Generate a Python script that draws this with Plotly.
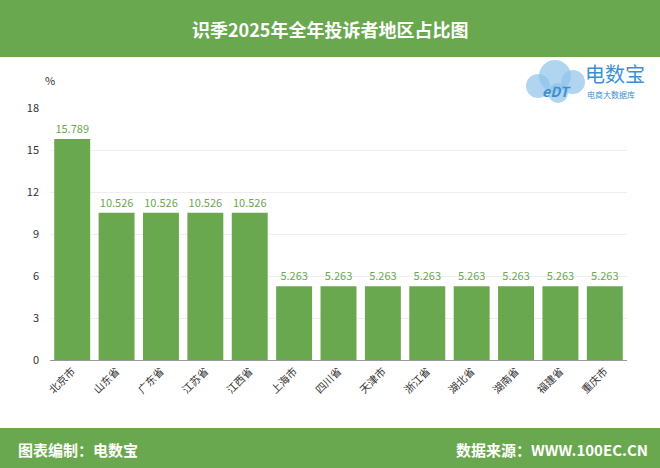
import plotly.graph_objects as go

categories = ["北京市", "山东省", "广东省", "江苏省", "江西省", "上海市", "四川省",
              "天津市", "浙江省", "湖北省", "湖南省", "福建省", "重庆市"]
values = [15.789, 10.526, 10.526, 10.526, 10.526, 5.263, 5.263,
          5.263, 5.263, 5.263, 5.263, 5.263, 5.263]
value_labels = ["15.789", "10.526", "10.526", "10.526", "10.526", "5.263", "5.263",
                "5.263", "5.263", "5.263", "5.263", "5.263", "5.263"]
y_ticks = [0, 3, 6, 9, 12, 15, 18]

W, H = 660, 468
T, B, L, R = 108, 108, 50, 33
GREEN = "#6aa84f"
FONT = "Noto Sans CJK SC, Microsoft YaHei, sans-serif"


def py(pix):
    # convert pixel y (from top) to paper coords
    return (H - B - pix) / (H - T - B)


def px(pix):
    return (pix - L) / (W - L - R)


fig = go.Figure(go.Bar(
    x=categories, y=values, text=value_labels, textposition="outside",
    textfont=dict(color=GREEN, size=11, family=FONT),
    marker=dict(color=GREEN, line=dict(width=0)),
    cliponaxis=False,
))

shapes = [
    dict(type="rect", xref="paper", yref="paper", x0=px(0), x1=px(W), y0=py(0), y1=py(57),
         fillcolor=GREEN, line=dict(width=0), layer="below"),
    dict(type="rect", xref="paper", yref="paper", x0=px(0), x1=px(W), y0=py(428), y1=py(H),
         fillcolor=GREEN, line=dict(width=0), layer="below"),
]
# simple cloud logo
for cx, cy, r in [(538, 86, 12), (555, 76, 16), (573, 82, 12), (558, 93, 10)]:
    shapes.append(dict(type="circle", xref="paper", yref="paper",
                       x0=px(cx - r), x1=px(cx + r), y0=py(cy + r), y1=py(cy - r),
                       fillcolor="#8fc3ea", line=dict(width=0), opacity=0.7, layer="below"))

annotations = [
    dict(text="<b>识季2025年全年投诉者地区占比图</b>", xref="paper", yref="paper",
         x=px(W / 2), y=py(29), showarrow=False, font=dict(color="white", size=18, family=FONT),
         xanchor="center", yanchor="middle"),
    dict(text="<b>图表编制：电数宝</b>", xref="paper", yref="paper",
         x=px(16), y=py(449), showarrow=False, font=dict(color="white", size=15, family=FONT),
         xanchor="left", yanchor="middle"),
    dict(text="<b>数据来源：WWW.100EC.CN</b>", xref="paper", yref="paper",
         x=px(650), y=py(449), showarrow=False, font=dict(color="white", size=15, family=FONT),
         xanchor="right", yanchor="middle"),
    dict(text="%", xref="paper", yref="paper", x=px(50), y=py(80), showarrow=False,
         font=dict(color="#333333", size=11, family=FONT), xanchor="center", yanchor="middle"),
    dict(text="<i><b>eDT</b></i>", xref="paper", yref="paper", x=px(556), y=py(91), showarrow=False,
         font=dict(color="#3d8fd1", size=14, family=FONT), xanchor="center", yanchor="middle"),
    dict(text="电数宝", xref="paper", yref="paper", x=px(583), y=py(73), showarrow=False,
         font=dict(color="#3d8fd1", size=20, family=FONT), xanchor="left", yanchor="middle"),
    dict(text="电商大数据库", xref="paper", yref="paper", x=px(585), y=py(95), showarrow=False,
         font=dict(color="#3d8fd1", size=8, family=FONT), xanchor="left", yanchor="middle"),
]

fig.update_layout(
    width=W, height=H, margin=dict(l=L, r=R, t=T, b=B, pad=0),
    paper_bgcolor="white", plot_bgcolor="white",
    bargap=0.19, showlegend=False,
    font=dict(family=FONT, color="#333333"),
    shapes=shapes, annotations=annotations,
    xaxis=dict(tickangle=-45, tickfont=dict(size=10.5, color="#333333"), showgrid=False,
               showline=True, linecolor="#999999", linewidth=1, ticks="", fixedrange=True),
    yaxis=dict(range=[0, 18], tickvals=y_ticks, tickfont=dict(size=11, color="#333333"),
               showgrid=True, gridcolor="#eeeeee", zeroline=False, ticks="", ticklen=0,
               ticklabelstandoff=10, fixedrange=True),
)

fig.write_html("out.html", config={"displayModeBar": False},
               post_script="document.body.style.margin='0';document.body.style.overflow='hidden';")
